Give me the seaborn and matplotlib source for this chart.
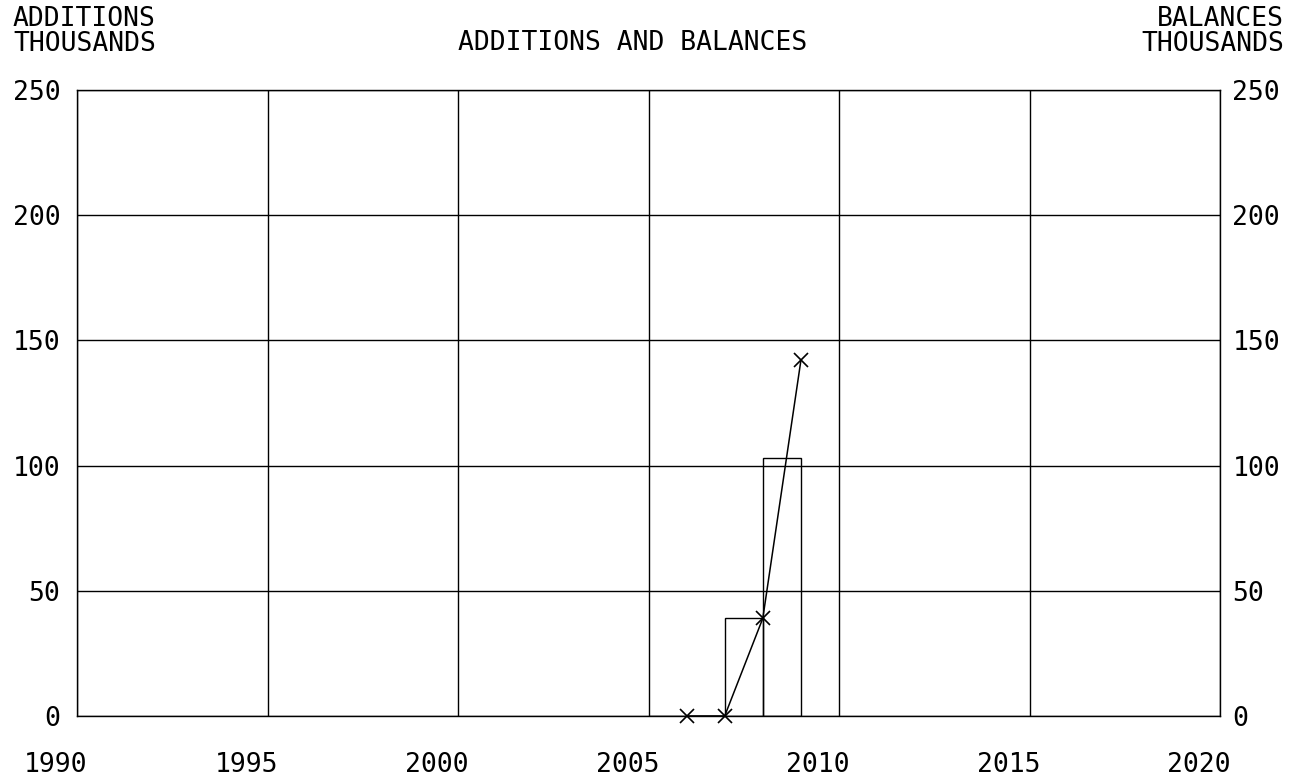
import numpy as np
import matplotlib
matplotlib.use("Agg")
import matplotlib.pyplot as plt
import matplotlib.transforms as mtransforms
import seaborn as sns

# data (thousands)
years = [2006, 2007, 2008, 2009]
additions = [0, 0, 39, 103]
balances = [0, 0, 39, 142]

x_ticks = [1990, 1995, 2000, 2005, 2010, 2015, 2020]
y_ticks = [0, 50, 100, 150, 200, 250]

sns.set_style("white")
plt.rcParams["font.family"] = ["DejaVu Sans Mono", "DejaVu Sans"]
plt.rcParams["font.size"] = 19
plt.rcParams["text.color"] = "black"
plt.rcParams["xtick.color"] = "black"
plt.rcParams["ytick.color"] = "black"

W, H = 1298, 784
fig = plt.figure(figsize=(W / 100, H / 100), dpi=100)
ax = fig.add_axes([77 / W, (H - 716) / H, (1220 - 77) / W, (716 - 90) / H])

# additions: bar covering the year leading up to each point
ax.bar(np.array(years) - 1, additions, width=1, align="edge",
       fill=False, edgecolor="black", linewidth=1.0, zorder=3)

# balances: line with x markers
sns.lineplot(x=years, y=balances, ax=ax, color="black", linewidth=1.1,
             marker="x", markersize=10, markeredgewidth=1.2,
             markeredgecolor="black", zorder=4, clip_on=False)

ax.set_xlim(1990, 2020)
ax.set_ylim(0, 250)
ax.set_xticks(x_ticks)
ax.set_yticks(y_ticks)
ax.grid(True, color="black", linewidth=1.0)
ax.set_axisbelow(True)
for s in ax.spines.values():
    s.set_color("black")
    s.set_linewidth(1.0)
    s.set_visible(True)

ax.tick_params(axis="x", length=0, pad=26, labelcolor="black")
ax.tick_params(axis="y", length=0, pad=12, labelcolor="black")
shift = mtransforms.ScaledTranslation(-21 / 100, 0, fig.dpi_scale_trans)
for lbl in ax.get_xticklabels():
    lbl.set_transform(lbl.get_transform() + shift)

ax2 = ax.twinx()
ax2.set_ylim(0, 250)
ax2.set_yticks(y_ticks)
ax2.tick_params(axis="y", length=0, pad=9, labelcolor="black")
for s in ax2.spines.values():
    s.set_visible(False)

fig.text(13 / W, 1 - 6 / H, "ADDITIONS\nTHOUSANDS", ha="left", va="top",
         linespacing=0.95)
fig.text(1284 / W, 1 - 6 / H, "BALANCES\nTHOUSANDS", ha="right", va="top",
         linespacing=0.95, multialignment="right")
fig.text(633 / W, 1 - 43 / H, "ADDITIONS AND BALANCES", ha="center",
         va="center")

fig.savefig("out.png", dpi=100)
